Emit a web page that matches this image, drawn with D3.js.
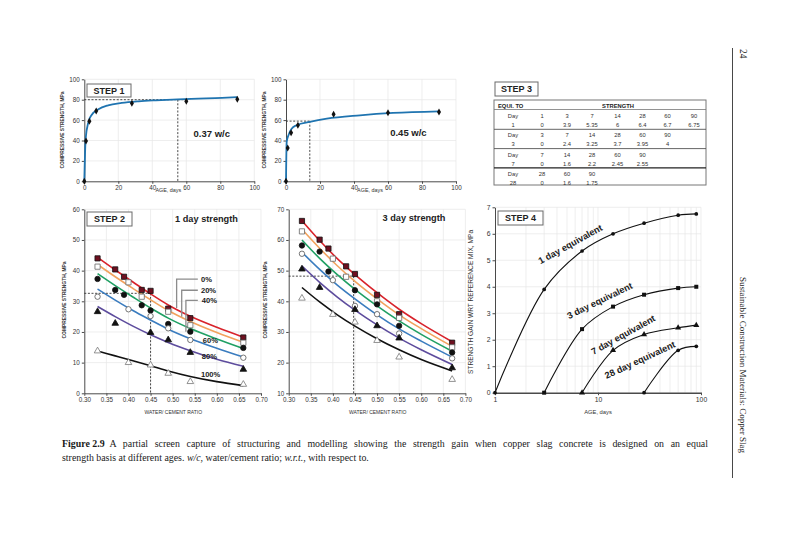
<!DOCTYPE html>
<html>
<head>
<meta charset="utf-8">
<script src="https://cdn.jsdelivr.net/npm/d3@7/dist/d3.min.js"></script>
<style>
  body { margin: 0; background: #fff; }
</style>
</head>
<body>
<svg id="fig" width="800" height="533" font-family="'Liberation Sans', Arial, sans-serif"></svg>
<script>
'use strict';

/* ---- STEP 1: strength vs age ---- */
const ageTicks = [0, 20, 40, 60, 80, 100];
const strengthTicks = [0, 20, 40, 60, 80, 100];
const testAges = [0, 1, 3, 7, 28, 60, 90];
const strength037 = [0, 39.5, 58.8, 69, 76.5, 78.5, 80.5];
const strength045 = [0, 32.7, 47.7, 55, 65.7, 67.3, 68];
const fitAges037 = [0, 0.8, 2.4, 4.3, 8.3, 14, 22, 32, 42, 55, 67, 81, 90];
const fit037 = [0, 41.8, 58, 65, 70.6, 74.5, 76.8, 78.4, 79.4, 80.4, 81, 81.7, 82.5];
const fitAges045 = [0, 0.4, 1.4, 3.3, 6.3, 14, 24, 43.5, 63, 90];
const fit045 = [0, 38.6, 45, 51.6, 55, 58.2, 61.4, 64.7, 67, 68.6];

/* ---- STEP 2: strength vs w/c for each copper slag replacement ---- */
const slagMix = ['0%', '20%', '40%', '60%', '80%', '100%'];
const wcTicks = [0.30, 0.35, 0.40, 0.45, 0.50, 0.55, 0.60, 0.65, 0.70];
const str1Ticks = [0, 10, 20, 30, 40, 50, 60];
const str3Ticks = [10, 20, 30, 40, 50, 60, 70];

const wc1Day = [
  [0.33, 0.37, 0.39, 0.43, 0.45, 0.49, 0.54, 0.66],
  [0.33, 0.40, 0.43, 0.49, 0.54, 0.66],
  [0.33, 0.37, 0.39, 0.43, 0.45, 0.49, 0.54, 0.66],
  [0.33, 0.40, 0.45, 0.49, 0.54, 0.66],
  [0.33, 0.37, 0.45, 0.49, 0.54, 0.66],
  [0.33, 0.40, 0.45, 0.49, 0.54, 0.66]
];
const str1Day = [
  [44, 40.4, 38, 33.7, 33.4, 27.6, 24.5, 18.2],
  [41.3, 36.2, 31.5, 26.6, 22.2, 16.5],
  [37.3, 33.7, 32.1, 28.7, 27, 22.6, 20.1, 14.8],
  [31.5, 27.4, 25.2, 21.2, 17.4, 11.6],
  [26.6, 22.8, 19.8, 17.4, 13.3, 7.8],
  [13.8, 10, 9.2, 6.5, 3.8, 2.9]
];
const fitWc1Day = [0.33, 0.37, 0.41, 0.45, 0.49, 0.54, 0.60, 0.66];
const fit1Day = [
  [44.3, 40.2, 36.3, 32.4, 28.8, 25.1, 21.5, 18.3],
  [42, 38, 34.2, 30.5, 27, 23.4, 19.8, 16.6],
  [39, 35.1, 31.4, 27.8, 24.5, 21.1, 17.7, 14.6],
  [34, 30.4, 27, 23.9, 20.9, 17.8, 14.7, 11.8],
  [28.3, 25, 21.9, 19.1, 16.6, 13.9, 11.1, 8.8],
  [13.8, 12.2, 10.6, 9.0, 7.3, 5.5, 3.8, 2.5]
];

const wc3Day = [
  [0.33, 0.37, 0.39, 0.43, 0.45, 0.50, 0.55, 0.67],
  [0.33, 0.40, 0.43, 0.50, 0.55, 0.67],
  [0.33, 0.37, 0.39, 0.45, 0.50, 0.55, 0.67],
  [0.33, 0.40, 0.45, 0.50, 0.55, 0.67],
  [0.33, 0.37, 0.45, 0.50, 0.55, 0.67],
  [0.33, 0.40, 0.45, 0.50, 0.55, 0.67]
];
const str3Day = [
  [66.2, 60.1, 57.2, 51.4, 48.9, 42.1, 35.8, 26.5],
  [62.8, 53.9, 48, 40, 34.6, 25],
  [58.2, 56.2, 49.7, 43.6, 39, 32, 23.3],
  [55.5, 46.9, 38.5, 35.8, 29.5, 21.4],
  [50.5, 44.5, 37.3, 32, 28, 18.3],
  [41, 35.7, 33.2, 27.2, 21.8, 14.5]
];
const fitWc3Day = [0.33, 0.37, 0.41, 0.45, 0.50, 0.55, 0.60, 0.67];
const fit3Day = [
  [66.3, 59.8, 53.9, 48.7, 42.8, 37.4, 32.7, 26.8],
  [63.5, 57.3, 51.6, 46.5, 40.8, 35.6, 31.1, 25.3],
  [60, 54, 48.7, 43.9, 38.5, 33.6, 29.2, 23.7],
  [56, 50.4, 45.3, 40.8, 35.6, 31, 27, 21.8],
  [51.5, 46.2, 41.4, 37.1, 32.3, 28, 24.2, 19.4],
  [44.5, 39.8, 35.6, 31.9, 27.8, 24.2, 21, 17.3]
];

/* ---- STEP 3 / 4: strength gain wrt reference mix ---- */
const equivDays = [1, 3, 7, 28];
const equivAges = [[1, 3, 7, 14, 28, 60, 90], [3, 7, 14, 28, 60, 90], [7, 14, 28, 60, 90], [28, 60, 90]];
const equivGain = [[0, 3.9, 5.35, 6, 6.4, 6.7, 6.75], [0, 2.4, 3.25, 3.7, 3.95, 4], [0, 1.6, 2.2, 2.45, 2.55], [0, 1.6, 1.75]];
const gainTicks = [0, 1, 2, 3, 4, 5, 6, 7];
const logAgeTicks = [1, 10, 100];

/* styles */
const mixColor = ['#d8232b', '#f2a25e', '#20a064', '#3a7cbf', '#5d4c9d', '#111111'];
const mixShape = ['square', 'square', 'circle', 'circle', 'triangle', 'triangle'];
const mixFill  = ['#6e1020', '#fff', '#111', '#fff', '#111', '#fff'];
const mixEdge  = ['#111', '#666', '#111', '#555', '#111', '#777'];
const equivShape = ['circle', 'square', 'triangle', 'circle'];

const SANS = "'Liberation Sans', Arial, sans-serif";
const SERIF = "'Liberation Serif', 'Times New Roman', serif";
const svg = d3.select('#fig');
const symType = { square: d3.symbolSquare, circle: d3.symbolCircle, triangle: d3.symbolTriangle };
const symSize = { square: 27, circle: 23, triangle: 19 };
const GRID = '#e6e6e6', AXIS = '#4a4a4a';

function panel(o) {
  const x = (o.log ? d3.scaleLog() : d3.scaleLinear()).domain(o.xDomain).range([o.left, o.right]);
  const y = d3.scaleLinear().domain(o.yDomain).range([o.bottom, o.top]);
  const g = svg.append('g');

  g.append('g').selectAll('line').data(o.xGrid).join('line')
    .attr('x1', d => x(d)).attr('x2', d => x(d)).attr('y1', o.top).attr('y2', o.bottom)
    .attr('stroke', GRID).attr('stroke-width', 0.7);
  g.append('g').selectAll('line').data(o.yGrid).join('line')
    .attr('x1', o.left).attr('x2', o.right).attr('y1', d => y(d)).attr('y2', d => y(d))
    .attr('stroke', GRID).attr('stroke-width', 0.7);

  const xa = g.append('g').attr('transform', `translate(0,${o.bottom})`)
    .call(d3.axisBottom(x).tickValues(o.xTicks).tickFormat(o.xFmt).tickSizeInner(2.5).tickSizeOuter(0).tickPadding(2));
  const ya = g.append('g').attr('transform', `translate(${o.left},0)`)
    .call(d3.axisLeft(y).tickValues(o.yTicks).tickFormat(o.yFmt).tickSizeInner(2.5).tickSizeOuter(0).tickPadding(2));
  [xa, ya].forEach(a => {
    a.attr('font-family', SANS).attr('font-size', o.tickFont || 6.3);
    a.select('.domain').attr('stroke', AXIS).attr('stroke-width', 1);
    a.selectAll('.tick line').attr('stroke', AXIS);
    a.selectAll('.tick text').attr('fill', '#333');
  });
  xa.select('.domain').attr('stroke-width', o.xAxisWidth || 1);

  g.append('text').attr('x', o.xTitleX).attr('y', o.xTitleY).attr('text-anchor', 'middle')
    .attr('font-size', o.titleFont || 5.2).attr('fill', '#333').text(o.xTitle);
  g.append('text').attr('transform', `translate(${o.yTitleX},${o.yTitleY}) rotate(-90)`)
    .attr('text-anchor', 'middle').attr('font-size', o.yTitleFont || 5).attr('font-weight', o.yTitleBold ? 'bold' : 'normal')
    .attr('fill', '#333').text(o.yTitle);
  return { x, y, g };
}

function stepBox(x, y, w, h, label) {
  svg.append('rect').attr('x', x).attr('y', y).attr('width', w).attr('height', h)
    .attr('fill', '#fff').attr('stroke', '#6a6a6a').attr('stroke-width', 1);
  svg.append('text').attr('x', x + w / 2).attr('y', y + h / 2 + 3.2).attr('text-anchor', 'middle')
    .attr('font-size', 9).attr('font-weight', 'bold').attr('fill', '#222').text(label);
}

function note(x, y, txt, size, anchor) {
  svg.append('text').attr('x', x).attr('y', y + size * 0.35).attr('text-anchor', anchor || 'middle')
    .attr('font-size', size).attr('font-weight', 'bold').attr('fill', '#222').text(txt);
}

function dashed(p, pts) {
  p.g.append('path').attr('d', d3.line().x(d => p.x(d[0])).y(d => p.y(d[1]))(pts))
    .attr('fill', 'none').attr('stroke', '#333').attr('stroke-width', 0.9).attr('stroke-dasharray', '2,1.6');
}

/* ---------- STEP 1 charts ---------- */
function agePanel(left, yTitleX) {
  return panel({
    left, right: left + 170, top: 79.3, bottom: 181.3,
    xDomain: [0, 100], yDomain: [0, 100],
    xTicks: ageTicks, yTicks: strengthTicks, xFmt: d3.format('d'), yFmt: d3.format('d'),
    xGrid: ageTicks.slice(1), yGrid: strengthTicks.slice(1),
    xTitle: 'AGE, days', xTitleX: left + 84, xTitleY: 192, titleFont: 5.4,
    yTitle: 'COMPRESSIVE STRENGTH, MPa', yTitleX, yTitleY: 130, yTitleBold: true, yTitleFont: 4.9
  });
}

function drawAgeCurve(p, fitX, fitY, ages, vals) {
  p.g.append('path').datum(fitX.map((a, i) => [a, fitY[i]]))
    .attr('d', d3.line().x(d => p.x(d[0])).y(d => p.y(d[1])).curve(d3.curveMonotoneX))
    .attr('fill', 'none').attr('stroke', '#1f74b0').attr('stroke-width', 1.8);
  p.g.append('g').selectAll('path').data(ages.map((a, i) => [a, vals[i]])).join('path')
    .attr('transform', d => `translate(${p.x(d[0])},${p.y(d[1])})`)
    .attr('d', d3.symbol(d3.symbolDiamond, 14)).attr('fill', '#111');
}

const p1 = agePanel(84.3, 63.5);
dashed(p1, [[0, 80], [60, 80]]);
dashed(p1, [[55, 80], [55, 0]]);
drawAgeCurve(p1, fitAges037, fit037, testAges, strength037);
stepBox(87, 84, 44, 13, 'STEP 1');
note(p1.x(75), p1.y(47), '0.37 w/c', 9.5);

const p2 = agePanel(286, 265.5);
dashed(p2, [[0, 59], [14, 59]]);
dashed(p2, [[14, 59], [14, 0]]);
drawAgeCurve(p2, fitAges045, fit045, testAges, strength045);
note(p2.x(72), p2.y(48), '0.45 w/c', 9.5);

/* ---------- STEP 2 charts ---------- */
function wcPanel(left, yDomain, yTicks, yTitleX) {
  return panel({
    left, right: left + 176.7, top: 209.3, bottom: 393.3,
    xDomain: [0.30, 0.70], yDomain,
    xTicks: wcTicks, yTicks, xFmt: d3.format('.2f'), yFmt: d3.format('d'),
    xGrid: wcTicks.slice(1), yGrid: yTicks.slice(1),
    xTitle: 'WATER/ CEMENT RATIO', xTitleX: left + 89, xTitleY: 413.5, titleFont: 5,
    yTitle: 'COMPRESSIVE STRENGTH, MPa', yTitleX, yTitleY: 300, yTitleBold: true, yTitleFont: 4.9
  });
}

function drawMixes(p, wcs, strs, fitWc, fits) {
  fits.forEach((f, i) => {
    p.g.append('path').datum(fitWc.map((w, k) => [w, f[k]]))
      .attr('d', d3.line().x(d => p.x(d[0])).y(d => p.y(d[1])).curve(d3.curveMonotoneX))
      .attr('fill', 'none').attr('stroke', mixColor[i]).attr('stroke-width', 1.6);
  });
  strs.forEach((s, i) => {
    p.g.append('g').selectAll('path').data(s.map((v, k) => [wcs[i][k], v])).join('path')
      .attr('transform', d => `translate(${p.x(d[0])},${p.y(d[1])})`)
      .attr('d', d3.symbol(symType[mixShape[i]], symSize[mixShape[i]]))
      .attr('fill', mixFill[i]).attr('stroke', mixEdge[i]).attr('stroke-width', 0.8);
  });
}

const p3 = wcPanel(84.3, [0, 60], str1Ticks, 66);
dashed(p3, [[0.30, 32.6], [0.45, 32.6]]);
dashed(p3, [[0.45, 32.6], [0.45, 0]]);
drawMixes(p3, wc1Day, str1Day, fitWc1Day, fit1Day);
// callout leaders for the top three mixes
[[0.509, 27.8, 37.2], [0.5205, 25, 33.6], [0.530, 20.1, 30.3]].forEach(([wx, lo, hi]) => {
  p3.g.append('path')
    .attr('d', `M${p3.x(wx)},${p3.y(lo)}V${p3.y(hi)}H${p3.x(0.557)}`)
    .attr('fill', 'none').attr('stroke', '#8c8c8c').attr('stroke-width', 1.3);
});
[[37.2, 0.564], [33.6, 0.564], [30.3, 0.566], [17.2, 0.568], [12.2, 0.566], [6.3, 0.564]].forEach(([v, wx], i) => {
  note(p3.x(wx), p3.y(v), slagMix[i], 7.6, 'start');
});
stepBox(87, 212, 45, 14, 'STEP 2');
note(206.5, 218.5, '1 day strength', 9.2);

const p4 = wcPanel(288.7, [10, 70], str3Ticks, 266.5);
dashed(p4, [[0.30, 48.2], [0.45, 48.2]]);
dashed(p4, [[0.447, 48.2], [0.447, 10]]);
drawMixes(p4, wc3Day, str3Day, fitWc3Day, fit3Day);
note(414, 217.5, '3 day strength', 9.2);

/* ---------- STEP 3 table ---------- */
const tbl = svg.append('g').attr('font-size', 5.8).attr('fill', '#333');
stepBox(495, 82, 43, 14, 'STEP 3');
tbl.append('rect').attr('x', 494).attr('y', 100).attr('width', 212).attr('height', 85)
  .attr('fill', 'none').attr('stroke', '#777').attr('stroke-width', 1);
tbl.append('text').attr('x', 498).attr('y', 107.6).attr('font-weight', 'bold').attr('fill', '#222').text('EQUI. TO');
tbl.append('text').attr('x', 618).attr('y', 107.6).attr('text-anchor', 'middle').attr('font-weight', 'bold').attr('fill', '#222').text('STRENGTH');
tbl.append('line').attr('x1', 494).attr('x2', 706).attr('y1', 109.5).attr('y2', 109.5).attr('stroke', '#777').attr('stroke-width', 0.8);
const colX = [513, 542, 567, 592, 617.5, 642.5, 667.5, 694];
equivDays.forEach((day, i) => {
  const top = 110 + i * 19.3;
  const rowA = ['Day'].concat(equivAges[i]);
  const rowB = [day].concat(equivGain[i]);
  [rowA, rowB].forEach((row, r) => {
    tbl.append('g').selectAll('text').data(row).join('text')
      .attr('x', (d, k) => colX[k]).attr('y', top + 6 + r * 9 + 2)
      .attr('text-anchor', 'middle').text(d => String(d));
  });
  if (i < equivDays.length - 1) {
    tbl.append('line').attr('x1', 494).attr('x2', 706).attr('y1', top + 19.3).attr('y2', top + 19.3)
      .attr('stroke', i === 2 ? '#222' : '#555').attr('stroke-width', i === 2 ? 1.4 : 0.9);
  }
});

/* ---------- STEP 4 chart ---------- */
const minorAges = [2, 3, 4, 5, 6, 7, 8, 9, 10, 20, 30, 40, 50, 60, 70, 80, 90, 100];
const p5 = panel({
  log: true, left: 495, right: 701, top: 207.3, bottom: 392.7,
  xDomain: [1, 100], yDomain: [0, 7],
  xTicks: logAgeTicks, yTicks: gainTicks, xFmt: d3.format('d'), yFmt: d3.format('d'),
  xGrid: minorAges, yGrid: gainTicks.slice(1), tickFont: 6.8, xAxisWidth: 1.6,
  xTitle: 'AGE, days', xTitleX: 598, xTitleY: 414, titleFont: 5.8,
  yTitle: 'STRENGTH GAIN WRT REFERENCE MIX, MPa', yTitleX: 473, yTitleY: 302, yTitleFont: 6.6
});
equivAges.forEach((ages, i) => {
  const pts = ages.map((a, k) => [a, equivGain[i][k]]);
  p5.g.append('path').datum(pts)
    .attr('d', d3.line().x(d => p5.x(d[0])).y(d => p5.y(d[1])).curve(d3.curveCatmullRom.alpha(0.5)))
    .attr('fill', 'none').attr('stroke', '#111').attr('stroke-width', 1.1);
  const shape = equivShape[i];
  p5.g.append('g').selectAll('path').data(pts).join('path')
    .attr('transform', d => `translate(${p5.x(d[0])},${p5.y(d[1])})`)
    .attr('d', d3.symbol(symType[shape], shape === 'circle' ? 11 : 16)).attr('fill', '#111');
});
stepBox(498, 211, 45, 14, 'STEP 4');
[[5.4, 5.6, -29], [10.4, 3.47, -26], [17.6, 2.18, -29], [25.6, 1.23, -25]].forEach(([a, v, rot], i) => {
  svg.append('text')
    .attr('transform', `translate(${p5.x(a)},${p5.y(v)}) rotate(${rot})`)
    .attr('y', 3).attr('text-anchor', 'middle').attr('font-size', 9.2).attr('font-weight', 'bold')
    .attr('fill', '#222').text(`${equivDays[i]} day equivalent`);
});

/* ---------- caption and running head ---------- */
const CAP = 9.9;
const cap1 = svg.append('text').attr('x', 62).attr('y', 446.5).attr('font-family', SERIF)
  .attr('font-size', CAP).attr('fill', '#1a1a1a');
cap1.append('tspan').attr('font-weight', 'bold').text('Figure 2.9');
const cap1Body = cap1.append('tspan').attr('dx', 5)
  .text('A partial screen capture of structuring and modelling showing the strength gain when copper slag concrete is designed on an equal');
// justified first line: spread the word gaps to the right margin
const natural = cap1.node().getComputedTextLength();
const gaps = cap1Body.text().split(' ').length - 1;
cap1Body.attr('word-spacing', Math.max(0, (641 - natural) / gaps));

const cap2 = svg.append('text').attr('x', 62).attr('y', 461).attr('font-family', SERIF)
  .attr('font-size', CAP).attr('fill', '#1a1a1a');
cap2.append('tspan').text('strength basis at different ages. ');
cap2.append('tspan').attr('font-style', 'italic').text('w/c,');
cap2.append('tspan').text(' water/cement ratio; ');
cap2.append('tspan').attr('font-style', 'italic').text('w.r.t.,');
cap2.append('tspan').text(' with respect to.');

svg.append('line').attr('x1', 732.5).attr('x2', 732.5).attr('y1', 48).attr('y2', 478)
  .attr('stroke', '#333').attr('stroke-width', 0.9);
svg.append('text').attr('transform', 'translate(739.5,49) rotate(90)').attr('font-family', SERIF)
  .attr('font-size', 9.5).attr('fill', '#222').text('24');
svg.append('text').attr('transform', 'translate(739.5,277) rotate(90)').attr('font-family', SERIF)
  .attr('font-size', 9).attr('fill', '#222').text('Sustainable Construction Materials: Copper Slag');
</script>
</body>
</html>
